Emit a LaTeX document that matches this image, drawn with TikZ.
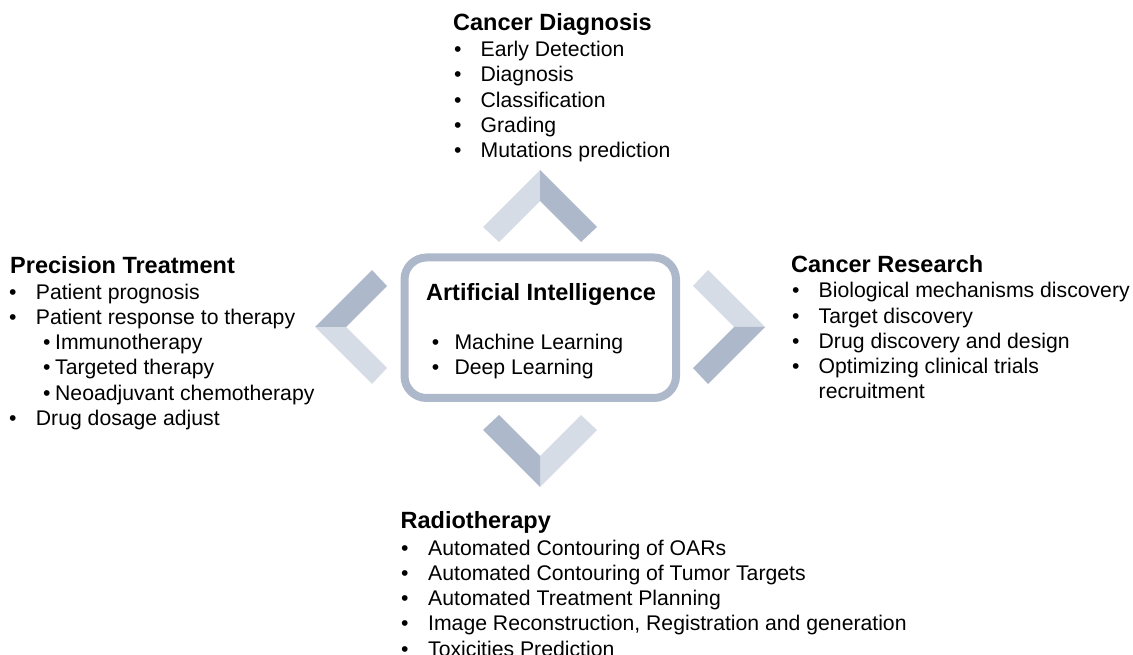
\documentclass[tikz,border=0pt]{standalone}
\usepackage{fontspec}
\setmainfont{Liberation Sans}
\definecolor{chevlight}{HTML}{D6DCE5}
\definecolor{chevdark}{HTML}{ADB9CA}
\newcommand{\bul}[1][26.5pt]{\makebox[#1][l]{\textbullet}}

\begin{document}
\begin{tikzpicture}[x=1pt, y=1pt,
	head/.style={anchor=base west, inner sep=0, font=\fontsize{23.5}{28}\selectfont\bfseries},
	item/.style={anchor=base west, inner sep=0, font=\fontsize{21.2}{25}\selectfont}]
	\useasboundingbox (0,0) rectangle (1133,654);
	% chevrons round the box
	\foreach \ang/\px/\py in {0/540/484, -90/765/327, 180/540/167, 90/315/327} {
		\begin{scope}[shift={(\px,\py)}, rotate=\ang]
			\fill[chevlight] (0,0) -- (-57,-57) -- (-41,-72) -- (0,-31) -- cycle;
			\fill[chevdark] (0,0) -- (57,-57) -- (41,-72) -- (0,-31) -- cycle;
		\end{scope}
	}
	% central box
	\node[draw=chevdark, line width=8pt, rounded corners=22pt, minimum width=271.5pt, minimum height=140.5pt, inner sep=0] (ai) at (540.25,326.25) {};
	\node[head, anchor=base] (aititle) at (541,353.3) {Artificial Intelligence};
	\node[item] (ai1) at (431.7,304.7) {\bul[22.7pt]Machine Learning};
	\node[item] (ai2) at (431.7,279) {\bul[22.7pt]Deep Learning};
	% cancer diagnosis
	\node[head] (diag) at (453,623.3) {Cancer Diagnosis};
	\foreach \lbl [count=\i] in {Early Detection, Diagnosis, Classification, Grading, Mutations prediction}
		\node[item] (diag\i) at (454,{597.3-25.2*(\i-1)}) {\bul\lbl};
	% precision treatment
	\node[head] (prec) at (10,380) {Precision Treatment};
	\node[item] (prec1) at (9,354.7) {\bul[26.7pt]Patient prognosis};
	\node[item] (prec2) at (9,329.5) {\bul[26.7pt]Patient response to therapy};
	\foreach \lbl [count=\i] in {Immunotherapy, Targeted therapy, Neoadjuvant chemotherapy}
		\node[item] (sub\i) at (43,{304.3-25.2*(\i-1)}) {\bul[12pt]\lbl};
	\node[item] (prec3) at (9,228.7) {\bul[26.7pt]Drug dosage adjust};
	% cancer research
	\node[head] (res) at (791,381.3) {Cancer Research};
	\foreach \lbl [count=\i] in {Biological mechanisms discovery, Target discovery, Drug discovery and design, Optimizing clinical trials}
		\node[item] (res\i) at (792,{356-25.2*(\i-1)}) {\bul\lbl};
	\node[item] (res5) at (818.5,255.2) {recruitment};
	% radiotherapy
	\node[head] (rad) at (400.5,125.7) {Radiotherapy};
	\foreach \lbl [count=\i] in {Automated Contouring of OARs, Automated Contouring of Tumor Targets, Automated Treatment Planning, {Image Reconstruction, Registration and generation}, Toxicities Prediction}
		\node[item] (rad\i) at (401,{99-25.3*(\i-1)}) {\bul[27pt]\lbl};
\end{tikzpicture}
\end{document}
